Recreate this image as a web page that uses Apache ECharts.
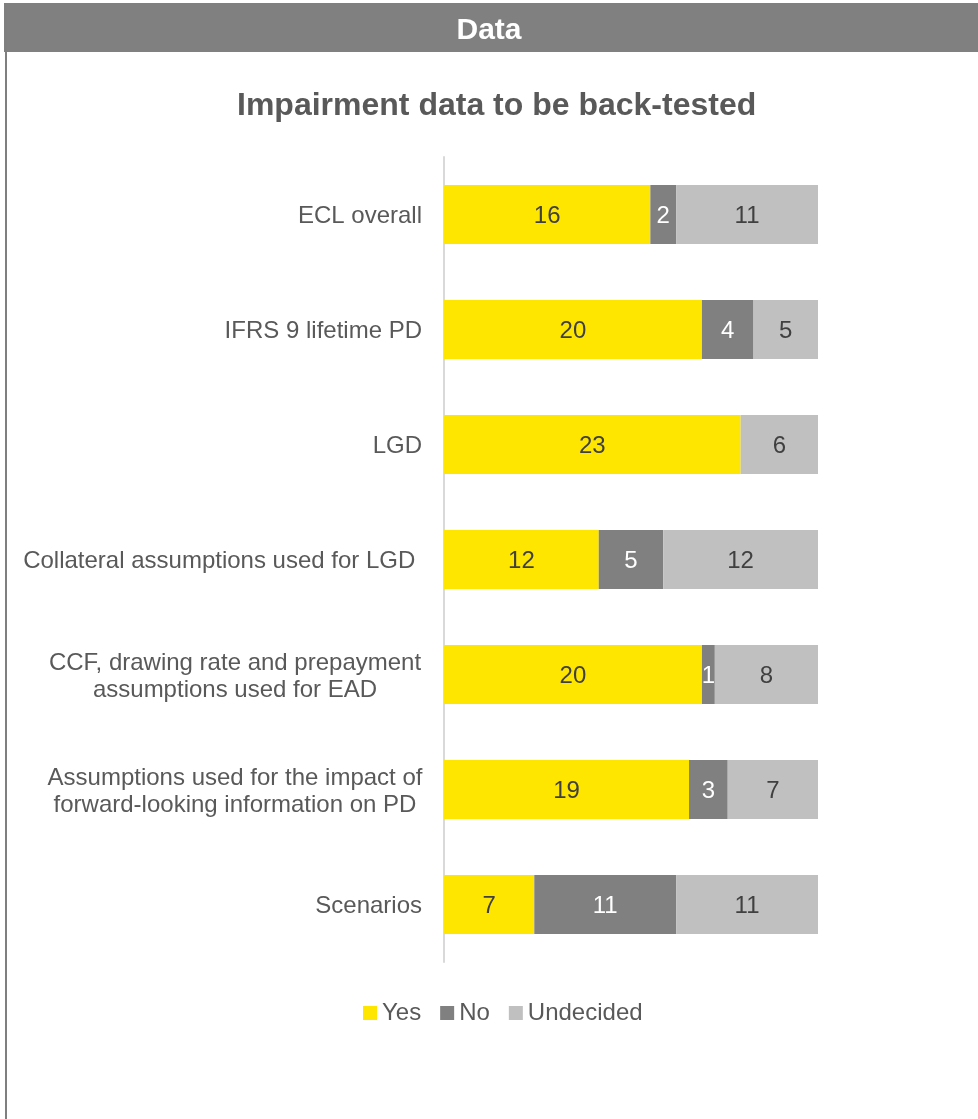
<!DOCTYPE html>
<html>
<head>
<meta charset="utf-8">
<title>Impairment data to be back-tested</title>
<script src="https://cdn.jsdelivr.net/npm/echarts@6/dist/echarts.min.js"></script>
<style>
  html, body { margin: 0; padding: 0; background: #ffffff; }
  #chart { width: 978px; height: 1119px; }
</style>
</head>
<body>
<div id="chart"></div>
<script>
// Survey answers per impairment data item (29 respondents each)
const categories = [
  'ECL overall',
  'IFRS 9 lifetime PD',
  'LGD',
  'Collateral assumptions used for LGD ',
  'CCF, drawing rate and prepayment\nassumptions used for EAD',
  'Assumptions used for the impact of\nforward-looking information on PD',
  'Scenarios'
];
const yesValues = [16, 20, 23, 12, 20, 19, 7];
const noValues = [2, 4, 0, 5, 1, 3, 11];
const undecidedValues = [11, 5, 6, 12, 8, 7, 11];
const seriesNames = ['Yes', 'No', 'Undecided'];

const FONT = '"Liberation Sans", Arial, sans-serif';
const TEXT_GREY = '#595959';

const chart = echarts.init(document.getElementById('chart'), null, { renderer: 'canvas' });

function barLabel(color) {
  return {
    show: true,
    position: 'inside',
    offset: [0, 2],
    fontSize: 24,
    fontFamily: FONT,
    color: color,
    formatter: p => (p.value ? String(p.value) : '')
  };
}

const option = {
  backgroundColor: '#ffffff',
  animation: false,
  graphic: [
    { type: 'rect', shape: { x: 4, y: 3, width: 980, height: 49 }, style: { fill: '#808080' }, z: 0 },
    { type: 'line', shape: { x1: 6, y1: 3, x2: 6, y2: 1119 }, style: { stroke: '#7f7f7f', lineWidth: 2 }, z: 0 }
  ],
  title: [
    {
      text: 'Data',
      left: 'center',
      top: 16,
      padding: 0,
      textStyle: { color: '#ffffff', fontSize: 30, fontWeight: 'bold', fontFamily: FONT }
    },
    {
      text: 'Impairment data to be back-tested',
      left: 237,
      top: 90,
      padding: 0,
      textStyle: { color: TEXT_GREY, fontSize: 32, fontWeight: 'bold', fontFamily: FONT }
    }
  ],
  legend: {
    data: seriesNames,
    left: 363,
    top: 1001,
    padding: 0,
    itemWidth: 14,
    itemHeight: 14,
    itemGap: 19,
    icon: 'rect',
    textStyle: { color: TEXT_GREY, fontSize: 24, fontFamily: FONT }
  },
  grid: { left: 444, width: 374, top: 157, height: 805, containLabel: false },
  xAxis: { type: 'value', min: 0, max: 29, show: false },
  yAxis: {
    type: 'category',
    data: categories,
    inverse: true,
    axisLine: { show: true, lineStyle: { color: '#d9d9d9', width: 2 } },
    axisTick: { show: false },
    splitLine: { show: false },
    axisLabel: {
      margin: 22,
      fontSize: 24,
      fontFamily: FONT,
      color: TEXT_GREY,
      lineHeight: 27,
      padding: [4, 0, 0, 0],
      formatter: v => v.indexOf('\n') >= 0
        ? v.split('\n').map(l => '{m|' + l + '}').join('\n')
        : v,
      rich: {
        m: { width: 374, align: 'center', fontSize: 24, fontFamily: FONT, color: TEXT_GREY, lineHeight: 27 }
      }
    }
  },
  series: [
    {
      name: 'Yes', type: 'bar', stack: 'all', data: yesValues, barWidth: 59,
      itemStyle: { color: '#ffe600' }, label: barLabel('#404040')
    },
    {
      name: 'No', type: 'bar', stack: 'all', data: noValues, barWidth: 59,
      itemStyle: { color: '#808080' }, label: barLabel('#ffffff')
    },
    {
      name: 'Undecided', type: 'bar', stack: 'all', data: undecidedValues, barWidth: 59,
      itemStyle: { color: '#c0c0c0' }, label: barLabel('#404040')
    }
  ]
};

chart.setOption(option);
</script>
</body>
</html>
